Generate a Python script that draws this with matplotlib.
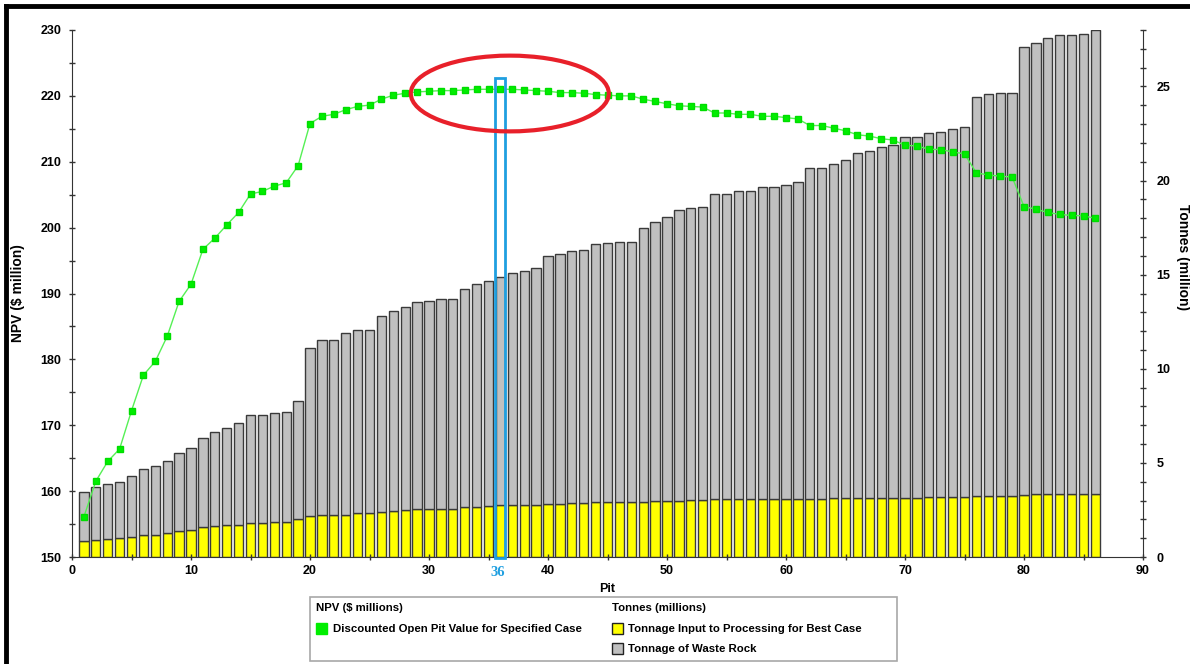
import matplotlib
matplotlib.use("Agg")
import matplotlib.pyplot as plt
from matplotlib.patches import Rectangle, Ellipse
from matplotlib.lines import Line2D
from matplotlib.ticker import MultipleLocator
import numpy as np

plt.rcParams['font.family'] = ['Liberation Sans', 'DejaVu Sans']

# Pit numbers
pits = list(range(1, 87))

# Ore tonnage sent to processing (million tonnes)
ore_tonnes = [
    0.87, 0.90, 0.94, 0.99, 1.06, 1.15, 1.18, 1.26, 1.36, 1.45,
    1.59, 1.65, 1.68, 1.72, 1.79, 1.82, 1.87, 1.87, 2.00, 2.16,
    2.21, 2.25, 2.25, 2.32, 2.32, 2.37, 2.42, 2.49, 2.53, 2.53,
    2.56, 2.56, 2.64, 2.67, 2.71, 2.74, 2.74, 2.78, 2.78, 2.81,
    2.81, 2.85, 2.85, 2.90, 2.90, 2.90, 2.90, 2.94, 2.97, 2.97,
    2.97, 3.01, 3.01, 3.06, 3.06, 3.06, 3.06, 3.06, 3.06, 3.06,
    3.06, 3.10, 3.10, 3.11, 3.11, 3.11, 3.11, 3.15, 3.15, 3.15,
    3.15, 3.17, 3.17, 3.17, 3.17, 3.23, 3.23, 3.23, 3.23, 3.32,
    3.34, 3.34, 3.34, 3.34, 3.34, 3.34,
]

# Total tonnage moved (ore + waste, million tonnes)
total_tonnes = [
    3.47, 3.73, 3.89, 3.96, 4.32, 4.69, 4.81, 5.08, 5.54, 5.77,
    6.33, 6.62, 6.83, 7.13, 7.54, 7.57, 7.66, 7.73, 8.28, 11.13,
    11.52, 11.55, 11.91, 12.06, 12.08, 12.83, 13.09, 13.29, 13.55, 13.59,
    13.71, 13.73, 14.26, 14.53, 14.69, 14.90, 15.11, 15.20, 15.34, 16.01,
    16.12, 16.24, 16.30, 16.62, 16.70, 16.74, 16.74, 17.48, 17.78, 18.05,
    18.43, 18.56, 18.61, 19.30, 19.30, 19.43, 19.43, 19.66, 19.66, 19.78,
    19.92, 20.68, 20.68, 20.86, 21.11, 21.48, 21.57, 21.77, 21.91, 22.32,
    22.32, 22.53, 22.59, 22.74, 22.87, 24.44, 24.59, 24.63, 24.67, 27.12,
    27.32, 27.60, 27.71, 27.75, 27.80, 27.99,
]

# Discounted open pit value ($ million)
npv = [
    156.1, 161.5, 164.5, 166.4, 172.2, 177.6, 179.7, 183.5, 188.8, 191.4,
    196.7, 198.4, 200.4, 202.3, 205.1, 205.5, 206.3, 206.8, 209.4, 215.8,
    216.9, 217.2, 217.9, 218.4, 218.6, 219.5, 220.1, 220.4, 220.6, 220.7,
    220.8, 220.8, 220.9, 221.0, 221.0, 221.0, 221.0, 220.9, 220.8, 220.7,
    220.5, 220.5, 220.4, 220.2, 220.1, 220.0, 220.0, 219.5, 219.15, 218.8,
    218.5, 218.4, 218.3, 217.4, 217.4, 217.2, 217.2, 216.9, 216.9, 216.7,
    216.5, 215.5, 215.5, 215.1, 214.7, 214.1, 213.9, 213.5, 213.3, 212.5,
    212.4, 211.9, 211.85, 211.5, 211.2, 208.3, 208.0, 207.8, 207.7, 203.2,
    202.8, 202.3, 202.0, 201.85, 201.8, 201.4,
]

best_pit = 36

W, H = 1190, 664
fig = plt.figure(figsize=(W / 100, H / 100), dpi=100)
fig.patch.set_facecolor('white')

x0, x1, y_top, y_bot = 72, 1143, 30, 557
ax = fig.add_axes([x0 / W, 1 - y_bot / H, (x1 - x0) / W, (y_bot - y_top) / H])
ax2 = ax.twinx()

spine_col = '#333333'
edge_col = '#3a3a3a'

# Stacked tonnage bars on the right-hand axis
ore = np.array(ore_tonnes)
waste = np.array(total_tonnes) - ore
ax2.bar(pits, ore, width=0.78, color='#ffff00', edgecolor=edge_col, linewidth=1.0)
ax2.bar(pits, waste, bottom=ore, width=0.78, color='#c0c0c0', edgecolor=edge_col, linewidth=1.0)
ax2.set_ylim(0, 28)

# NPV curve on the left-hand axis, drawn above the bars
ax.set_zorder(ax2.get_zorder() + 1)
ax.patch.set_visible(False)
ax.plot(pits, npv, color='#55f055', linewidth=1.0, marker='s', markersize=4.5,
        markerfacecolor='#00ee00', markeredgecolor='#00dd00', zorder=3)
ax.set_ylim(150, 230)
ax.set_xlim(0, 90)

# Highlight of the best pit and the NPV plateau
ax.add_patch(Rectangle((35.55, 149.8), 0.8, 222.65 - 149.8, fill=False,
                       edgecolor='#1f9fe0', linewidth=2.0, clip_on=False, zorder=4))
ax.add_patch(Ellipse((36.79, 220.36), 16.64, 11.5, fill=False,
                     edgecolor='#e8202a', linewidth=3.0, zorder=5))
ax.text(35.8, -0.03, str(best_pit), transform=ax.get_xaxis_transform(),
        ha='center', va='center', fontsize=10.5, fontweight='bold',
        color='#1f9fe0', family='Liberation Serif')

# Axes styling
for a in (ax, ax2):
    a.spines['top'].set_visible(False)
ax.spines['right'].set_visible(False)
ax2.spines['left'].set_visible(False)
ax2.spines['bottom'].set_visible(False)
for s in ('left', 'bottom'):
    ax.spines[s].set_color(spine_col)
ax2.spines['right'].set_color(spine_col)

ax.xaxis.set_major_locator(MultipleLocator(10))
ax.xaxis.set_minor_locator(MultipleLocator(5))
ax.yaxis.set_major_locator(MultipleLocator(10))
ax.yaxis.set_minor_locator(MultipleLocator(5))
ax2.yaxis.set_major_locator(MultipleLocator(5))
ax2.yaxis.set_minor_locator(MultipleLocator(1))

for a in (ax, ax2):
    a.tick_params(which='both', direction='inout', colors=spine_col, labelcolor='black',
                  labelsize=9, width=1)
    a.tick_params(which='major', length=5)
    a.tick_params(which='minor', length=4)
    for lab in a.get_xticklabels() + a.get_yticklabels():
        lab.set_fontweight('bold')
ax.tick_params(axis='y', pad=5)
ax2.tick_params(axis='y', pad=7)

ax.set_xlabel('Pit', fontsize=9, fontweight='bold', labelpad=4)
ax.set_ylabel('NPV ($ million)', fontsize=10, fontweight='bold', va='center')
ax.yaxis.set_label_coords(-0.0504, 0.5)
ax2.set_ylabel('Tonnes (million)', fontsize=10, fontweight='bold', rotation=270,
               va='center')
ax2.yaxis.set_label_coords(1.0374, 0.57)

# Legend panel underneath the chart
def fx(px):
    return px / W

def fy(py):
    return 1 - py / H

fig.patches.append(Rectangle((fx(310), fy(661)), fx(897) - fx(310), fy(597) - fy(661),
                             transform=fig.transFigure, fill=False,
                             edgecolor='#a8a8a8', linewidth=1.2))
leg_font = dict(fontsize=8.2, fontweight='bold', va='center', ha='left')
fig.text(fx(316), fy(608), 'NPV ($ millions)', **leg_font)
fig.text(fx(612), fy(608), 'Tonnes (millions)', **leg_font)

def swatch(px, py, color, edge):
    fig.patches.append(Rectangle((fx(px), fy(py + 11)), fx(11), 11 / H,
                                 transform=fig.transFigure, facecolor=color,
                                 edgecolor=edge, linewidth=1))

swatch(316, 623, '#00ee00', '#00ee00')
fig.text(fx(333), fy(629), 'Discounted Open Pit Value for Specified Case', **leg_font)
swatch(612, 623, '#ffff00', '#222222')
fig.text(fx(628), fy(629), 'Tonnage Input to Processing for Best Case', **leg_font)
swatch(612, 643, '#c0c0c0', '#222222')
fig.text(fx(628), fy(649), 'Tonnage of Waste Rock', **leg_font)

# Outer frame lines
fig.lines.append(Line2D([fx(6), 1.0], [fy(6), fy(6)], transform=fig.transFigure,
                        color='black', linewidth=3.5))
fig.lines.append(Line2D([fx(6), fx(6)], [0.0, fy(6)], transform=fig.transFigure,
                        color='black', linewidth=3.5))

fig.savefig('out.png', dpi=100, facecolor='white')
